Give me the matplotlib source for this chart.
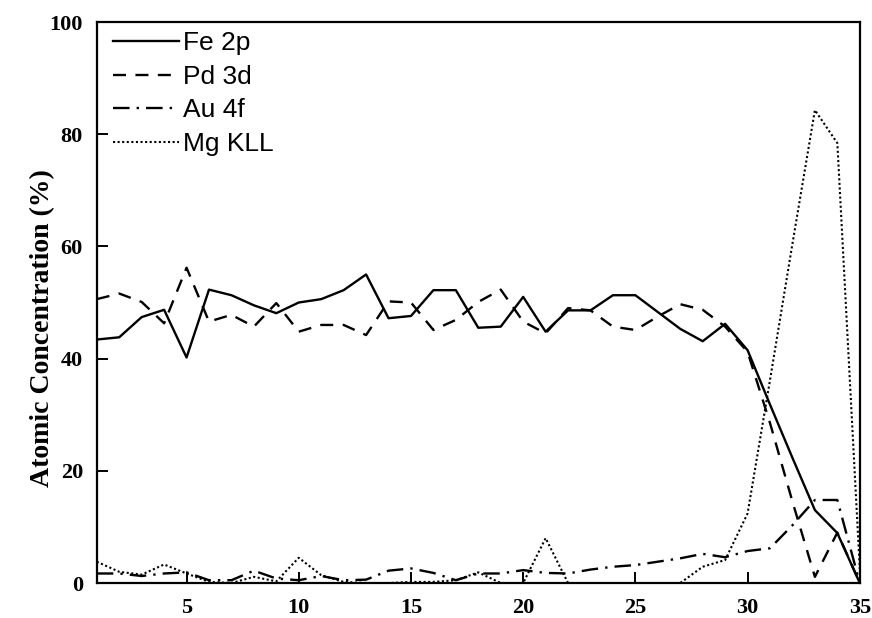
import matplotlib
matplotlib.use("Agg")
import matplotlib.pyplot as plt

# Depth profile data (sputter cycle vs atomic concentration)
cycle = list(range(1, 36))
fe_2p = [43.4, 43.8, 47.4, 48.7, 40.2, 52.3, 51.3, 49.5, 48.1, 50.0,
         50.6, 52.2, 55.0, 47.2, 47.6, 52.2, 52.2, 45.5, 45.7, 51.0,
         44.8, 48.6, 48.6, 51.3, 51.3, 48.3, 45.3, 43.1, 46.2, 41.5,
         31.8, 22.3, 13.0, 8.9, 0.0]
pd_3d = [50.6, 51.6, 50.1, 46.3, 56.2, 46.6, 47.8, 45.7, 49.9, 44.8,
         46.0, 46.0, 44.2, 50.2, 50.0, 45.1, 46.9, 50.1, 52.3, 46.6,
         44.5, 49.0, 48.6, 45.7, 45.1, 47.5, 49.7, 48.7, 45.7, 41.2,
         28.5, 14.5, 1.1, 9.0, 0.0]
au_4f = [1.7, 1.7, 1.25, 1.7, 1.9, 0.5, 0.5, 2.2, 0.8, 0.5,
         1.25, 0.5, 0.6, 2.2, 2.6, 1.8, 0.5, 1.7, 1.7, 2.3,
         1.8, 1.7, 2.4, 2.9, 3.2, 3.8, 4.4, 5.2, 4.6, 5.7,
         6.2, 10.3, 14.8, 14.8, 0.0]
mg_kll = [3.8, 2.0, 1.5, 3.3, 1.7, 0.2, 0.0, 1.1, 0.3, 4.5,
          1.4, 0.2, 0.0, 0.0, 0.2, 0.2, 0.5, 1.9, 0.0, 0.0,
          8.0, 0.0, 0.0, 0.0, 0.0, 0.0, 0.0, 2.9, 4.1, 12.4,
          36.2, 60.5, 84.3, 78.4, 2.5]

fig = plt.figure(figsize=(8.72, 6.18), dpi=100)
ax = fig.add_axes([0.111, 0.0566, 0.875, 0.9078])

ax.plot(cycle, fe_2p, color="black", lw=1.7, ls="-", label="Fe 2p")
ax.plot(cycle, pd_3d, color="black", lw=1.7, ls=(0, (5.5, 4)), label="Pd 3d")
ax.plot(cycle, au_4f, color="black", lw=1.7, ls=(0, (7, 3, 1, 3)), label="Au 4f")
ax.plot(cycle, mg_kll, color="black", lw=1.5, ls=(0, (1, 1.2)), label="Mg KLL")

ax.set_xlim(1, 35)
ax.set_ylim(0, 100)
ax.set_xticks([5, 10, 15, 20, 25, 30, 35])
ax.set_yticks([0, 20, 40, 60, 80, 100])

for s in ax.spines.values():
    s.set_linewidth(1.6)
ax.tick_params(direction="in", length=8, width=1.4)
ax.tick_params(axis="x", pad=11)
ax.tick_params(axis="y", pad=10)
for lab in ax.get_xticklabels() + ax.get_yticklabels():
    lab.set_fontfamily("Liberation Serif")
    lab.set_fontweight("bold")
    lab.set_fontsize(16)

ax.set_ylabel("Atomic Concentration (%)", fontfamily="Liberation Serif",
              fontweight="bold", fontsize=20)
ax.yaxis.set_label_coords(-0.055, 0.455)

leg = ax.legend(loc="upper left", bbox_to_anchor=(0.009, 1.0), frameon=False,
                handlelength=2.5, handletextpad=0.15, labelspacing=0.36,
                borderaxespad=0.15, borderpad=0.2,
                prop={"family": "Liberation Sans", "size": 19})

fig.savefig("out.png", dpi=100)
